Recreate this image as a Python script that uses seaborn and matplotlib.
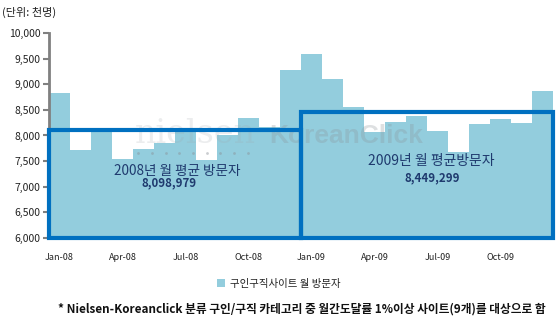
import matplotlib
matplotlib.use("Agg")
import matplotlib.pyplot as plt
from matplotlib.patches import Rectangle, Patch
import seaborn as sns
import numpy as np
import pandas as pd

# Monthly visitors to job-search sites (thousands)
months = ["Jan-08", "Feb-08", "Mar-08", "Apr-08", "May-08", "Jun-08",
          "Jul-08", "Aug-08", "Sep-08", "Oct-08", "Nov-08", "Dec-08",
          "Jan-09", "Feb-09", "Mar-09", "Apr-09", "May-09", "Jun-09",
          "Jul-09", "Aug-09", "Sep-09", "Oct-09", "Nov-09", "Dec-09"]
visitors = [8820, 7725, 8115, 7550, 7745, 7845, 8060, 7530, 8000, 8350, 8160, 9285,
            9580, 9095, 8565, 8065, 8255, 8390, 8080, 7675, 8215, 8315, 8235, 8860]
tick_labels = ["Jan-08", "Apr-08", "Jul-08", "Oct-08", "Jan-09", "Apr-09", "Jul-09", "Oct-09"]
yearly_avg = {"2008": 8098979, "2009": 8449299}
avg_titles = {"2008": "2008년 월 평균 방문자", "2009": "2009년 월 평균방문자"}
series_name = "구인구직사이트 월 방문자"
unit_label = "(단위: 천명)"
footnote = "* Nielsen-Koreanclick 분류 구인/구직 카테고리 중 월간도달률 1%이상 사이트(9개)를 대상으로 함"

df = pd.DataFrame({"month": months, "visitors": visitors})

sns.set_theme(style="white")
plt.rcParams["font.family"] = ["Noto Sans CJK KR", "DejaVu Sans"]

BAR = "#93CDDD"
BOX = "#0070C0"
NAVY = "#1F3A6E"

fig = plt.figure(figsize=(5.58, 3.23), dpi=100)
ax = fig.add_axes([0.0878, 0.263, 0.903, 0.635])

sns.barplot(data=df, x="month", y="visitors", order=months, color=BAR,
            width=1.0, saturation=1.0, ax=ax, zorder=1)
for p in ax.patches:
    p.set_edgecolor("none")

ax.set_xlim(-0.5, len(months) - 0.5)
ax.set_ylim(6000, 10000)
ax.set_yticks(range(6000, 10001, 500))
ax.set_yticklabels([f"{v:,}" for v in range(6000, 10001, 500)], fontsize=7.5, color="#222222")

# ticks on the quarter boundaries, labels centred under the first month of each quarter
ax.set_xticks([i - 0.5 for i in range(0, len(months) + 1, 3)])
ax.set_xticklabels([])
ax.set_xticks(list(range(0, len(months), 3)), minor=True)
ax.set_xticklabels(tick_labels, minor=True, fontsize=6.5, color="#222222")
ax.tick_params(axis="x", which="major", length=4, width=1.5, color="#808080", direction="out")
ax.tick_params(axis="x", which="minor", length=0, pad=11)
ax.tick_params(axis="y", length=4, width=1.5, color="#808080", direction="out", pad=2, left=True)
ax.set_xlabel("")
ax.set_ylabel("")

for s in ["top", "right"]:
    ax.spines[s].set_visible(False)
for s in ["left", "bottom"]:
    ax.spines[s].set_color("#808080")
    ax.spines[s].set_linewidth(2)

# faint brand watermark
ax.text(0.171, 0.463, "nielsen", transform=ax.transAxes, fontsize=24, family="DejaVu Serif",
        color="#a0a6ac", alpha=0.2, ha="left", va="baseline", zorder=2)
ax.text(0.437, 0.463, "KoreanClick", transform=ax.transAxes, fontsize=19, weight="bold",
        family="Liberation Sans", color="#8a9096", alpha=0.28, ha="left", va="baseline", zorder=2)
ax.scatter(np.linspace(0.177, 0.394, 9), np.full(9, 0.415), s=4, color="#8a9096",
           alpha=0.45, linewidths=0, transform=ax.transAxes, zorder=2)

# yearly average frames
for i, (year, avg) in enumerate(yearly_avg.items()):
    start = i * 12 - 0.5
    ax.add_patch(Rectangle((start, 6000), 12, avg / 1000 - 6000, fill=False,
                           edgecolor=BOX, linewidth=3, clip_on=False, zorder=3))

ax.text(5.6, 7310, avg_titles["2008"], fontsize=9.8, color=NAVY, ha="center", va="center", zorder=4)
ax.text(5.2, 7070, f"{yearly_avg['2008']:,}", fontsize=8.3, weight="bold", color=NAVY,
        ha="center", va="center", zorder=4)
ax.text(17.7, 7500, avg_titles["2009"], fontsize=10, color=NAVY, ha="center", va="center", zorder=4)
ax.text(17.75, 7180, f"{yearly_avg['2009']:,}", fontsize=8.3, weight="bold", color=NAVY,
        ha="center", va="center", zorder=4)

fig.text(0.004, 0.96, unit_label, fontsize=8, color="#222222", ha="left", va="center")

fig.legend(handles=[Patch(facecolor=BAR, edgecolor="none", label=series_name)],
           loc="center", bbox_to_anchor=(0.5, 0.122), frameon=False, fontsize=7.5,
           handlelength=0.7, handleheight=0.7, handletextpad=0.5, labelcolor="#222222")

fig.text(0.540, 0.043, footnote, fontsize=8.45, weight="bold", color="#111111", ha="center", va="center")

fig.savefig("out.png", dpi=100)
